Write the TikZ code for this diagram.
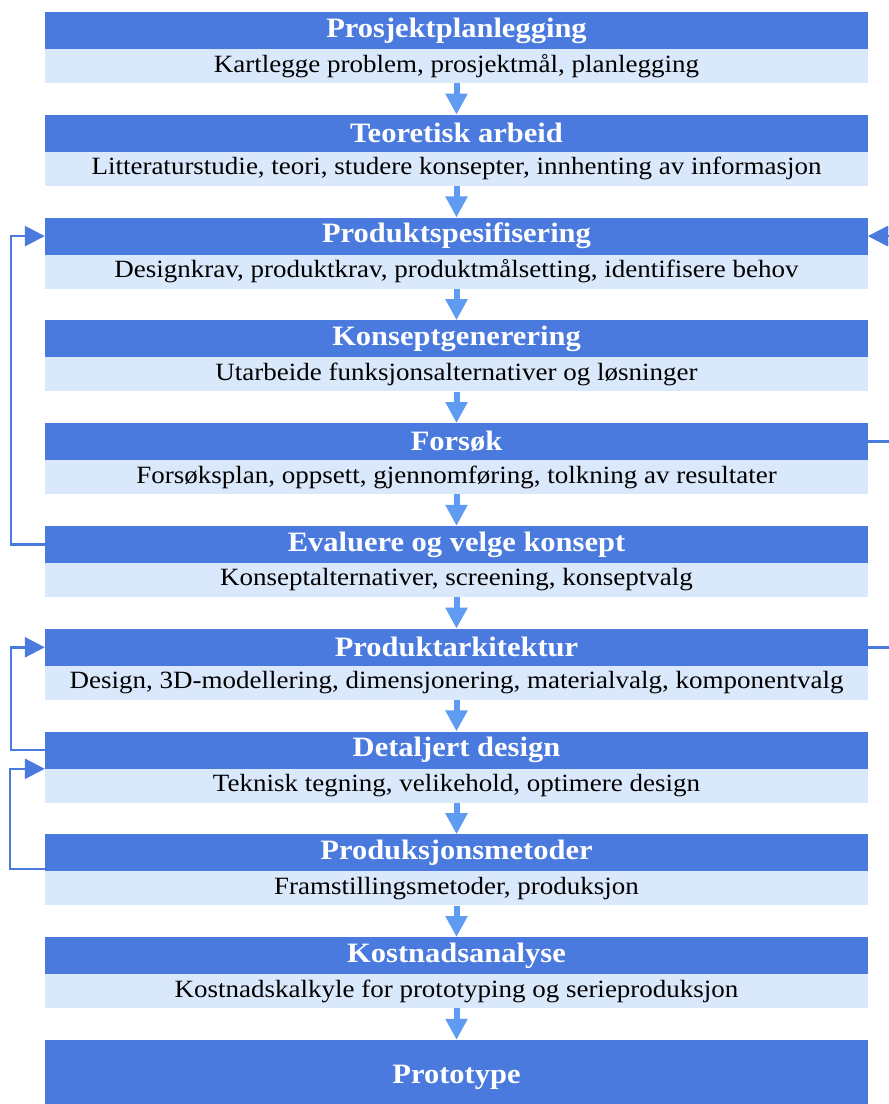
\documentclass[tikz,border=0pt]{standalone}
\usepackage{fontspec}
\setmainfont{Liberation Serif}
\usetikzlibrary{arrows.meta}
\definecolor{hdr}{RGB}{74,122,222}
\definecolor{lite}{RGB}{218,232,251}
\definecolor{darr}{RGB}{95,155,240}
\definecolor{fbc}{RGB}{74,122,222}
\newcommand{\vsq}[1]{\scalebox{1}[0.92]{#1}}
\begin{document}
\begin{tikzpicture}[x=1pt,y=-1pt,
 hdrbox/.style={rectangle, fill=hdr, draw=none, minimum width=823pt, minimum height=37pt, inner sep=0pt, text=white, font=\fontsize{30.5}{32}\selectfont\bfseries},
 litebox/.style={rectangle, fill=lite, draw=none, minimum width=823pt, minimum height=34pt, inner sep=0pt, font=\fontsize{27}{29}\selectfont},
 downarr/.style={draw=darr, line width=6pt, -{Triangle[width=21pt,length=21pt]}},
 fb/.style={draw=fbc, line width=2.6pt, -{Triangle[width=20pt,length=20pt]}}]
\clip (0,0) rectangle (889,1104);
\fill[white] (0,0) rectangle (889,1104);

\node[hdrbox] (h1) at (456.5,30.5) {\vsq{Prosjektplanlegging}};
\node[litebox] (l1) at (456.5,66) {\vsq{Kartlegge problem, prosjektmål, planlegging}};
\node[hdrbox] (h2) at (456.5,133.3) {\vsq{Teoretisk arbeid}};
\node[litebox] (l2) at (456.5,168.8) {\vsq{Litteraturstudie, teori, studere konsepter, innhenting av informasjon}};
\node[hdrbox] (h3) at (456.5,236.1) {\vsq{Produktspesifisering}};
\node[litebox] (l3) at (456.5,271.6) {\vsq{Designkrav, produktkrav, produktmålsetting, identifisere behov}};
\node[hdrbox] (h4) at (456.5,338.9) {\vsq{Konseptgenerering}};
\node[litebox] (l4) at (456.5,374.4) {\vsq{Utarbeide funksjonsalternativer og løsninger}};
\node[hdrbox] (h5) at (456.5,441.7) {\vsq{Forsøk}};
\node[litebox] (l5) at (456.5,477.2) {\vsq{Forsøksplan, oppsett, gjennomføring, tolkning av resultater}};
\node[hdrbox] (h6) at (456.5,544.5) {\vsq{Evaluere og velge konsept}};
\node[litebox] (l6) at (456.5,580) {\vsq{Konseptalternativer, screening, konseptvalg}};
\node[hdrbox] (h7) at (456.5,647.3) {\vsq{Produktarkitektur}};
\node[litebox] (l7) at (456.5,682.8) {\vsq{Design, 3D-modellering, dimensjonering, materialvalg, komponentvalg}};
\node[hdrbox] (h8) at (456.5,750.1) {\vsq{Detaljert design}};
\node[litebox] (l8) at (456.5,785.6) {\vsq{Teknisk tegning, velikehold, optimere design}};
\node[hdrbox] (h9) at (456.5,852.9) {\vsq{Produksjonsmetoder}};
\node[litebox] (l9) at (456.5,888.4) {\vsq{Framstillingsmetoder, produksjon}};
\node[hdrbox] (h10) at (456.5,955.7) {\vsq{Kostnadsanalyse}};
\node[litebox] (l10) at (456.5,991.2) {\vsq{Kostnadskalkyle for prototyping og serieproduksjon}};
\node[hdrbox, minimum height=74pt] (h11) at (456.5,1077) {\vsq{Prototype}};

\draw[downarr] (l1.south) -- (h2.north);
\draw[downarr] (l2.south) -- (h3.north);
\draw[downarr] (l3.south) -- (h4.north);
\draw[downarr] (l4.south) -- (h5.north);
\draw[downarr] (l5.south) -- (h6.north);
\draw[downarr] (l6.south) -- (h7.north);
\draw[downarr] (l7.south) -- (h8.north);
\draw[downarr] (l8.south) -- (h9.north);
\draw[downarr] (l9.south) -- (h10.north);
\draw[downarr] (l10.south) -- (h11.north);

\draw[fb] (h6.west) -- ++(-34,0) |- (h3.west);
\draw[fb] (h8.west) -- ++(-34,0) |- (h7.west);
\draw[fb] ([yshift=2.5pt]h9.south west) -- ++(-35,0) |- (h8.south west);
\draw[fb] (h5.east) -- ++(34,0) |- (h3.east);
\draw[fb] (h7.east) -- ++(34,0) |- (h3.east);
\end{tikzpicture}
\end{document}
